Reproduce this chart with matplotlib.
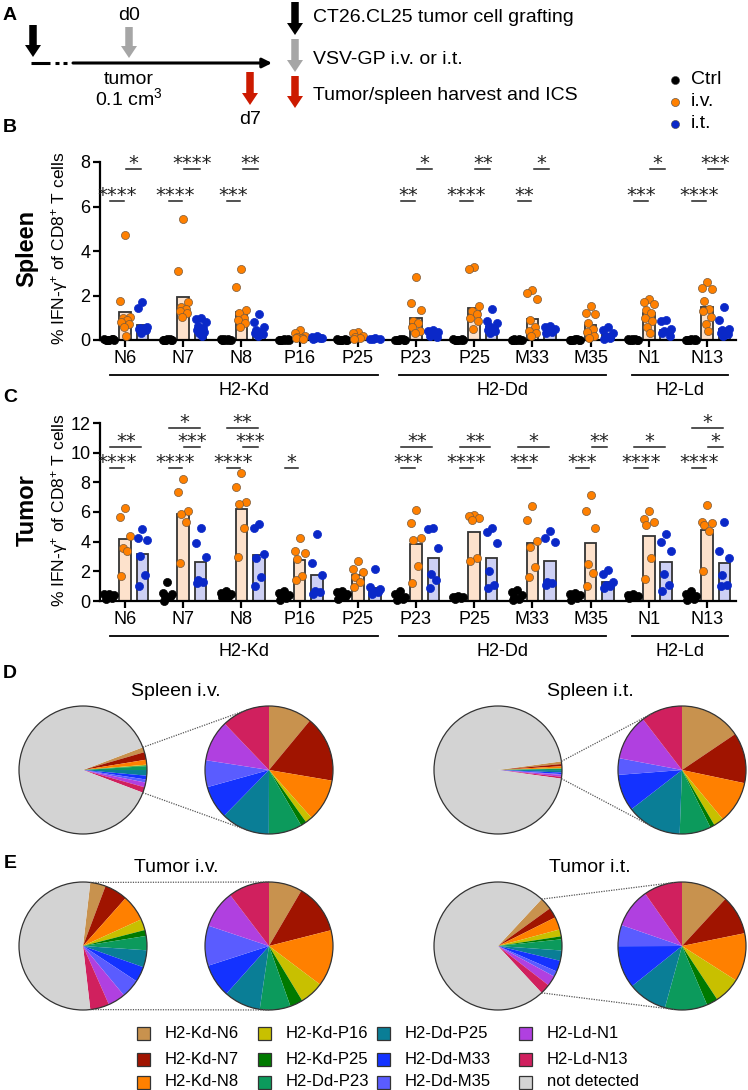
import numpy as np
import matplotlib.pyplot as plt
import matplotlib.transforms as mtransforms
from matplotlib.patches import Circle, Rectangle

plt.rcParams['font.family'] = ['Liberation Sans', 'DejaVu Sans']
plt.rcParams['mathtext.fontset'] = 'custom'
plt.rcParams['mathtext.rm'] = 'Liberation Sans'
plt.rcParams['mathtext.it'] = 'Liberation Sans:italic'
plt.rcParams['mathtext.bf'] = 'Liberation Sans:bold'

W, H = 748, 1090

# ---------------- data ----------------
epitopes = ['N6', 'N7', 'N8', 'P16', 'P25', 'P23', 'P25', 'M33', 'M35', 'N1', 'N13']
alleles = ['H2-Kd', 'H2-Dd', 'H2-Ld']
allele_span = [(-0.26, 4.35), (4.71, 8.26), (8.71, 10.36)]

# panel B, spleen (% IFN-g+ of CD8+ T cells)
spleen_ctrl = [[0.02, 0.03, 0.01, 0.02, 0.04, 0.01, 0.03, 0.02],
               [0.03, 0.02, 0.01, 0.02, 0.03, 0.01, 0.02, 0.02],
               [0.02, 0.04, 0.01, 0.02, 0.03, 0.01, 0.02, 0.03],
               [0.03, 0.02, 0.01, 0.02, 0.02, 0.01, 0.03, 0.02],
               [0.02, 0.03, 0.01, 0.02, 0.04, 0.01, 0.02, 0.02],
               [0.03, 0.02, 0.01, 0.02, 0.03, 0.01, 0.02, 0.02],
               [0.02, 0.03, 0.01, 0.02, 0.02, 0.01, 0.03, 0.02],
               [0.02, 0.02, 0.01, 0.03, 0.03, 0.01, 0.02, 0.02],
               [0.03, 0.02, 0.01, 0.02, 0.04, 0.01, 0.02, 0.02],
               [0.02, 0.03, 0.01, 0.02, 0.03, 0.01, 0.02, 0.03],
               [0.03, 0.02, 0.01, 0.02, 0.02, 0.01, 0.03, 0.02]]
spleen_iv = [[4.7, 1.77, 1.05, 1.0, 0.9, 0.8, 0.7, 0.6, 0.2],
             [5.45, 3.1, 1.7, 1.5, 1.4, 1.3, 1.2, 1.05],
             [3.2, 2.4, 1.35, 1.2, 1.0, 0.9, 0.75, 0.6],
             [0.45, 0.3, 0.2, 0.15, 0.1, 0.1, 0.05],
             [0.35, 0.3, 0.2, 0.15, 0.1, 0.05],
             [2.85, 1.68, 1.35, 0.85, 0.75, 0.6, 0.4, 0.3],
             [3.3, 3.2, 1.55, 1.3, 1.15, 1.0, 0.85, 0.5],
             [2.25, 2.1, 1.85, 0.9, 0.6, 0.4, 0.3, 0.2],
             [1.55, 1.2, 1.15, 0.75, 0.5, 0.35, 0.2, 0.1],
             [1.85, 1.7, 1.6, 1.35, 1.2, 1.0, 0.85, 0.6, 0.3],
             [2.6, 2.35, 2.3, 1.75, 1.4, 1.3, 1.05, 0.7, 0.4]]
spleen_it = [[1.7, 1.45, 0.6, 0.55, 0.55, 0.5, 0.45, 0.3],
             [1.0, 0.95, 0.8, 0.65, 0.55, 0.45, 0.35, 0.3, 0.2],
             [1.15, 0.8, 0.6, 0.45, 0.35, 0.3, 0.25, 0.2],
             [0.2, 0.15, 0.1, 0.1, 0.1, 0.05],
             [0.08, 0.05, 0.05, 0.03],
             [0.45, 0.4, 0.35, 0.3, 0.25, 0.2, 0.15],
             [1.4, 0.85, 0.75, 0.65, 0.55, 0.45, 0.4, 0.3],
             [0.65, 0.6, 0.5, 0.4, 0.35, 0.3],
             [0.6, 0.45, 0.3, 0.2, 0.1, 0.05],
             [0.9, 0.85, 0.5, 0.4, 0.35, 0.3, 0.2],
             [1.5, 0.9, 0.5, 0.45, 0.4, 0.3, 0.25, 0.2]]
spleen_iv_bar = [1.27, 1.92, 1.24, 0.20, 0.17, 0.97, 1.42, 0.96, 0.66, 1.20, 1.47]
spleen_it_bar = [0.67, 0.55, 0.40, 0.12, 0.05, 0.30, 0.60, 0.45, 0.25, 0.45, 0.50]

# panel C, tumor
tumor_ctrl = [[0.5, 0.45, 0.4, 0.3, 0.2, 0.15],
              [1.25, 0.55, 0.45, 0.35, 0.3, 0.02],
              [0.65, 0.55, 0.45, 0.35, 0.3, 0.25],
              [0.7, 0.55, 0.4, 0.3, 0.2, 0.1],
              [0.7, 0.6, 0.5, 0.4, 0.3, 0.15],
              [0.7, 0.45, 0.3, 0.2, 0.15, 0.1],
              [0.35, 0.3, 0.3, 0.25, 0.2, 0.15],
              [0.75, 0.6, 0.4, 0.3, 0.15, 0.05],
              [0.55, 0.5, 0.4, 0.3, 0.2, 0.1],
              [0.45, 0.4, 0.35, 0.3, 0.25, 0.2],
              [0.7, 0.5, 0.35, 0.25, 0.15, 0.05]]
tumor_iv = [[6.3, 5.65, 4.4, 3.6, 3.35, 1.7],
            [8.25, 7.35, 6.05, 5.85, 5.35, 2.55],
            [8.65, 7.7, 6.7, 6.55, 4.95, 2.95],
            [4.25, 3.35, 3.25, 2.8, 1.7, 1.4],
            [2.7, 2.15, 1.95, 1.65, 1.25, 0.95],
            [6.15, 5.25, 4.25, 4.1, 2.35, 1.2],
            [5.8, 5.7, 5.6, 5.45, 2.9, 2.7],
            [6.4, 5.45, 4.05, 3.65, 2.3, 1.65],
            [7.15, 6.1, 4.95, 2.5, 1.9, 1.0],
            [6.1, 5.5, 5.35, 5.1, 2.9, 1.5],
            [6.45, 5.35, 5.25, 5.1, 4.7, 2.05]]
tumor_it = [[4.83, 4.27, 4.1, 3.03, 1.73, 1.03],
            [4.9, 3.9, 3.0, 1.4, 1.25, 1.2],
            [5.2, 4.9, 3.2, 2.9, 1.6, 1.0],
            [4.55, 2.55, 1.75, 0.65, 0.6, 0.5],
            [2.15, 0.95, 0.8, 0.7, 0.6, 0.5],
            [4.9, 4.85, 3.55, 1.85, 1.4, 0.9],
            [4.95, 4.65, 3.9, 2.05, 1.1, 0.9],
            [4.7, 4.25, 4.0, 1.25, 1.2, 1.1],
            [2.1, 1.8, 1.25, 1.1, 1.0, 0.9],
            [4.5, 4.0, 3.4, 1.85, 1.1, 0.7],
            [5.3, 3.4, 2.9, 1.75, 1.1, 1.0]]
tumor_iv_bar = [4.15, 5.88, 6.22, 2.78, 1.78, 3.85, 4.67, 3.9, 3.92, 4.35, 4.78]
tumor_it_bar = [3.15, 2.6, 3.12, 1.75, 0.88, 2.9, 2.9, 2.72, 1.3, 2.6, 2.56]

# significance: (epitope index, from, to, row, stars)
spleen_sig = [(0, 'c', 'v', 0, '****'), (0, 'v', 't', 1, '*'),
              (1, 'c', 'v', 0, '****'), (1, 'v', 't', 1, '****'),
              (2, 'c', 'v', 0, '***'), (2, 'v', 't', 1, '**'),
              (5, 'c', 'v', 0, '**'), (5, 'v', 't', 1, '*'),
              (6, 'c', 'v', 0, '****'), (6, 'v', 't', 1, '**'),
              (7, 'c', 'v', 0, '**'), (7, 'v', 't', 1, '*'),
              (9, 'c', 'v', 0, '***'), (9, 'v', 't', 1, '*'),
              (10, 'c', 'v', 0, '****'), (10, 'v', 't', 1, '***')]
spleen_rows = [6.25, 7.69]
tumor_sig = [(0, 'c', 'v', 0, '****'), (0, 'c', 't', 1, '**'),
             (1, 'c', 'v', 0, '****'), (1, 'v', 't', 1, '***'), (1, 'c', 't', 2, '*'),
             (2, 'c', 'v', 0, '****'), (2, 'v', 't', 1, '***'), (2, 'c', 't', 2, '**'),
             (3, 'c', 'v', 0, '*'),
             (5, 'c', 'v', 0, '***'), (5, 'c', 't', 1, '**'),
             (6, 'c', 'v', 0, '****'), (6, 'c', 't', 1, '**'),
             (7, 'c', 'v', 0, '***'), (7, 'c', 't', 1, '*'),
             (8, 'c', 'v', 0, '***'), (8, 'v', 't', 1, '**'),
             (9, 'c', 'v', 0, '****'), (9, 'c', 't', 1, '*'),
             (10, 'c', 'v', 0, '****'), (10, 'v', 't', 1, '*'), (10, 'c', 't', 2, '*')]
tumor_rows = [8.97, 10.38, 11.67]

# panels D/E, share of each epitope (% of CD8+ T cells)
pie_labels = ['H2-Kd-N6', 'H2-Kd-N7', 'H2-Kd-N8', 'H2-Kd-P16', 'H2-Kd-P25', 'H2-Dd-P23',
              'H2-Dd-P25', 'H2-Dd-M33', 'H2-Dd-M35', 'H2-Ld-N1', 'H2-Ld-N13', 'not detected']
pie_colors = ['#C8924E', '#A01400', '#FF8000', '#C8C000', '#007A00', '#0C9A5C',
              '#0A7E96', '#1432FF', '#5A5CFF', '#B040E0', '#D0205E', '#D3D3D3']
spleen_iv_pct = [1.27, 1.92, 1.24, 0.20, 0.17, 0.97, 1.42, 0.96, 0.78, 1.20, 1.40]
spleen_it_pct = [0.67, 0.55, 0.46, 0.11, 0.05, 0.34, 0.60, 0.40, 0.18, 0.50, 0.45]
tumor_iv_pct = [3.9, 5.85, 6.6, 2.8, 1.5, 3.6, 4.3, 3.9, 4.7, 4.4, 4.8]
tumor_it_pct = [3.1, 2.6, 3.2, 1.75, 0.75, 2.8, 2.6, 2.8, 1.4, 2.6, 2.55]

# ---------------- style ----------------
C_IV, C_IT = '#FF8000', '#0A28C8'
BAR_IV, BAR_IT = '#FDE2CC', '#CDD0F4'
OFF = {'c': -0.27, 'v': 0.0, 't': 0.3}
BW = 0.2


def px(x, y):
    """image pixel (y down) -> figure fraction"""
    return x / W, 1 - y / H


def spread(n, width):
    pattern = np.array([0, -1, 1, -0.5, 0.5, -0.75, 0.75, -0.25, 0.25, -1, 1, 0])
    return pattern[:n] * width


def dot_panel(ax, ctrl, iv, it, iv_bar, it_bar, ymax, sig, rows):
    x = np.arange(len(epitopes))
    ax.bar(x + OFF['v'], iv_bar, BW, color=BAR_IV, edgecolor='#333333', linewidth=1.3, zorder=1)
    ax.bar(x + OFF['t'], it_bar, BW, color=BAR_IT, edgecolor='#333333', linewidth=1.3, zorder=1)
    for i in range(len(epitopes)):
        for vals, key, col, ec in [(ctrl[i], 'c', 'black', 'black'),
                                   (iv[i], 'v', C_IV, '#7A5A3A'),
                                   (it[i], 't', C_IT, C_IT)]:
            ax.scatter(i + OFF[key] + spread(len(vals), 0.085), vals, s=34, c=col,
                       edgecolors=ec, linewidths=0.5, zorder=3, clip_on=False)
    for i, a, b, r, stars in sig:
        x0, x1 = i + OFF[a] + 0.02, i + OFF[b] - 0.02
        ax.plot([x0, x1], [rows[r]] * 2, color='#222222', lw=1.1, clip_on=False)
        ax.annotate(stars, ((x0 + x1) / 2, rows[r]), xytext=(0, -0.3), textcoords='offset points',
                    ha='center', va='baseline', fontsize=14, family='DejaVu Sans',
                    color='#222222', annotation_clip=False)
    ax.set_xlim(-0.43, 10.5)
    ax.set_ylim(0, ymax)
    ax.set_yticks(np.arange(0, ymax + 1, 2))
    ax.set_xticks(x)
    ax.set_xticklabels(epitopes)
    for s in ['top', 'right']:
        ax.spines[s].set_visible(False)
    for s in ['left', 'bottom']:
        ax.spines[s].set_linewidth(1.6)
    ax.tick_params(axis='both', labelsize=13, width=1.6, length=5, pad=2)
    ax.patch.set_alpha(0)
    trans = mtransforms.blended_transform_factory(ax.transData, ax.transAxes)
    for name, (a, b) in zip(alleles, allele_span):
        ax.plot([a, b], [-0.197, -0.197], color='black', lw=1.3, transform=trans, clip_on=False)
        ax.text((a + b) / 2, -0.285, name, transform=trans, ha='center', va='center', fontsize=13)


fig = plt.figure(figsize=(W / 100, H / 100), dpi=100)

# overlay in pixel units (y up) for panel A, pies and legends
ov = fig.add_axes([0, 0, 1, 1])

axB = fig.add_axes([100 / W, (H - 340) / H, 636 / W, 178 / H])
dot_panel(axB, spleen_ctrl, spleen_iv, spleen_it, spleen_iv_bar, spleen_it_bar, 8, spleen_sig, spleen_rows)
axC = fig.add_axes([100 / W, (H - 601) / H, 636 / W, 178 / H])
dot_panel(axC, tumor_ctrl, tumor_iv, tumor_it, tumor_iv_bar, tumor_it_bar, 12, tumor_sig, tumor_rows)

ylab = '% IFN-$\\mathrm{\\gamma}^{+}$ of CD8$^{+}$ T cells'
for yc, organ in [(248, 'Spleen'), (510, 'Tumor')]:
    fig.text(*px(59, yc), ylab, rotation=90, ha='center', va='center', fontsize=12.5)
    fig.text(*px(27, yc), organ, rotation=90, ha='center', va='center', fontsize=17, fontweight='bold')

for lab, y in [('A', 15), ('B', 128), ('C', 397), ('D', 673), ('E', 863)]:
    fig.text(*px(10, y), lab, ha='center', va='center', fontsize=14, fontweight='bold')


def Y(y):
    return H - y


# ---- panel A ----
def down_arrow(x, y0, y1, col):
    ov.arrow(x, Y(y0), 0, -(y1 - y0), width=7.5, head_width=16, head_length=12,
             length_includes_head=True, color=col, lw=0)


down_arrow(33, 25, 57, 'black')
down_arrow(129, 27, 58, '#A6A6A6')
down_arrow(250, 72, 105, '#CC1A00')
down_arrow(295, 2, 35, 'black')
down_arrow(295, 39, 72, '#A6A6A6')
down_arrow(295, 76, 108, '#CC1A00')
ov.plot([31, 50], [Y(63)] * 2, color='black', lw=2.2, solid_capstyle='butt')
ov.plot([55, 59], [Y(63)] * 2, color='black', lw=2.2, solid_capstyle='butt')
ov.plot([63, 67], [Y(63)] * 2, color='black', lw=2.2, solid_capstyle='butt')
ov.annotate('', xy=(272, Y(63)), xytext=(73, Y(63)),
            arrowprops=dict(arrowstyle='-|>', color='black', lw=2.2, mutation_scale=14, shrinkA=0, shrinkB=0))
ov.text(129, Y(15), 'd0', ha='center', va='center', fontsize=14)
ov.text(129, Y(79), 'tumor', ha='center', va='center', fontsize=14)
ov.text(129, Y(98), '0.1 cm$^{3}$', ha='center', va='center', fontsize=14)
ov.text(250, Y(120), 'd7', ha='center', va='center', fontsize=14)
ov.text(313, Y(18), 'CT26.CL25 tumor cell grafting', ha='left', va='center', fontsize=14)
ov.text(313, Y(59), 'VSV-GP i.v. or i.t.', ha='left', va='center', fontsize=14)
ov.text(313, Y(95), 'Tumor/spleen harvest and ICS', ha='left', va='center', fontsize=14)

for y, lab, col in [(80, 'Ctrl', 'black'), (102, 'i.v.', C_IV), (124, 'i.t.', C_IT)]:
    ov.scatter([675], [Y(y)], s=34, c=col, edgecolors='#444444', linewidths=0.4)
    ov.text(691, Y(y), lab, ha='left', va='center', fontsize=14)


# ---- panels D/E ----
def pie_pair(pct, cx_big, cx_small, cy, title, r=64):
    det = sum(pct)
    ang = det * 3.6
    vals = list(pct) + [100 - det]
    ov.pie(vals, colors=pie_colors, center=(cx_big, Y(cy)), radius=r, startangle=ang / 2,
           counterclock=False, wedgeprops=dict(linewidth=0))
    ov.pie(pct, colors=pie_colors[:-1], center=(cx_small, Y(cy)), radius=r, startangle=90,
           counterclock=False, wedgeprops=dict(linewidth=0))
    for cx in (cx_big, cx_small):
        ov.add_patch(Circle((cx, Y(cy)), r, fill=False, ec='#333333', lw=0.9))
    # dotted connectors from the wedge edges to the zoomed pie
    for sgn in (1, -1):
        t = np.radians(sgn * ang / 2)
        p = np.array([cx_big + r * np.cos(t), Y(cy) + r * np.sin(t)])
        d = p - np.array([cx_small, Y(cy)])
        phi = np.arctan2(d[1], d[0])
        alpha = np.arccos(r / np.hypot(*d))
        th = phi - alpha if sgn > 0 else phi + alpha
        q = (cx_small + r * np.cos(th), Y(cy) + r * np.sin(th))
        ov.plot([p[0], q[0]], [p[1], q[1]], ls=(0, (1, 1)), color='#555555', lw=0.9)
    ov.text((cx_big + cx_small) / 2 + 0, Y(cy - 78), title, ha='center', va='center', fontsize=14)


pie_pair(spleen_iv_pct, 83, 269, 770, 'Spleen i.v.')
pie_pair(spleen_it_pct, 498, 682, 770, 'Spleen i.t.')
pie_pair(tumor_iv_pct, 83, 269, 946, 'Tumor i.v.')
pie_pair(tumor_it_pct, 498, 682, 946, 'Tumor i.t.')

col_x = [144, 265, 384, 526]
row_y = [1033, 1059, 1082]
for k, (lab, col) in enumerate(zip(pie_labels, pie_colors)):
    bx, by = col_x[k // 3], row_y[k % 3]
    ov.add_patch(Rectangle((bx - 6.5, Y(by) - 6.5), 13, 13, facecolor=col, edgecolor='#333333', lw=0.9))
    ov.text(bx + 21, Y(by), lab, ha='left', va='center', fontsize=12)

ov.set_xlim(0, W)
ov.set_ylim(0, H)
ov.set_aspect('auto')
ov.axis('off')

fig.savefig('out.png', dpi=100)
